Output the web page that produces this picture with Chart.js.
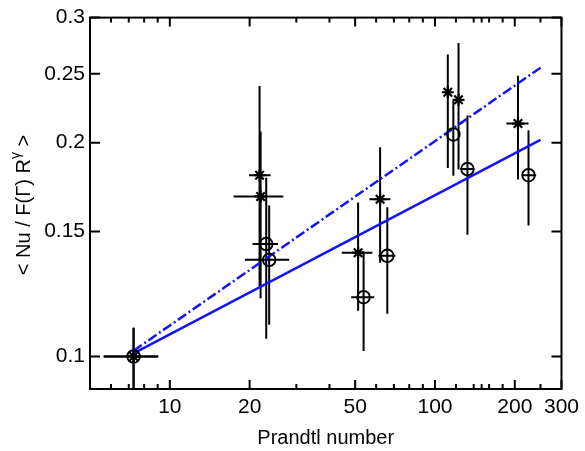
<!DOCTYPE html>
<html>
<head>
<meta charset="utf-8">
<script src="https://cdn.jsdelivr.net/npm/chart.js@4/dist/chart.umd.min.js"></script>
<style>
  html, body { margin: 0; padding: 0; background: #ffffff; }
  #c { display: block; }
</style>
</head>
<body>
<canvas id="c" width="585" height="451"></canvas>
<script>
// ---- Data ----
// Asterisk series
const starPr   = [7.3, 21.8, 22.0, 51.3, 62.1, 111.8, 122.7, 205.6];
const starNu   = [0.100, 0.180, 0.168, 0.140, 0.1665, 0.2355, 0.2298, 0.2128];
const starNuLo = [0.085, 0.1255, 0.1208, 0.116, 0.1355, 0.1842, 0.1834, 0.1775];
const starNuHi = [0.1098, 0.2403, 0.2074, 0.1647, 0.197, 0.2662, 0.2763, 0.2484];
const starPrLo = [5.63, 19.9, 17.4, 44.5, 56.6, null, null, 185.9];
const starPrHi = [9.04, 24.0, 26.8, 58.1, 67.9, null, null, 225.3];

// Circle series
const circPr   = [7.3, 23.1, 23.7, 53.8, 66.1, 117.3, 132.6, 225.3];
const circNu   = [0.100, 0.144, 0.1368, 0.1212, 0.1386, 0.2054, 0.1836, 0.180];
const circNuLo = [0.085, 0.1059, 0.1108, 0.1018, 0.1149, 0.1796, 0.1484, 0.1529];
const circNuHi = [0.1098, 0.1785, 0.1632, 0.1404, 0.1622, 0.229, 0.2185, 0.2083];
const circPrLo = [5.63, 20.5, 19.2, 48.3, 61.2, null, 125.0, 214.8];
const circPrHi = [9.04, 25.6, 28.2, 59.0, 70.9, null, 139.9, 240.8];

// Fit lines
const fitPr       = [7.3, 250];
const fitSolid    = [0.101, 0.2018];
const fitDashDot  = [0.1019, 0.255];

// Ticks
const xTickValues = [10, 20, 50, 100, 200, 300];
const xTickText   = ['10', '20', '50', '100', '200', '300'];
const xMinorTicks = [6, 7, 8, 9, 30, 40, 60, 70, 80, 90, 120, 140, 150, 160, 180, 250];
const yTickValues = [0.1, 0.15, 0.2, 0.25, 0.3];
const yTickText   = ['0.1', '0.15', '0.2', '0.25', '0.3'];

const FONT = '"Liberation Sans", Arial, Helvetica, sans-serif';
const BLUE = '#1414ee';

const pts = (xs, ys) => xs.map((v, i) => ({ x: v, y: ys[i] }));

const errorBarsPlugin = {
  id: 'errorBars',
  beforeDatasetsDraw(chart) {
    const { ctx, chartArea: a, scales: { x, y } } = chart;
    ctx.save();
    ctx.beginPath();
    ctx.rect(a.left, a.top, a.right - a.left, a.bottom - a.top);
    ctx.clip();
    ctx.strokeStyle = '#000';
    ctx.lineWidth = 2;
    const drawSet = (pr, nu, lo, hi, plo, phi) => {
      for (let i = 0; i < pr.length; i++) {
        const px = x.getPixelForValue(pr[i]);
        const py = y.getPixelForValue(nu[i]);
        ctx.beginPath();
        ctx.moveTo(px, y.getPixelForValue(lo[i]));
        ctx.lineTo(px, y.getPixelForValue(hi[i]));
        if (plo[i] != null) {
          ctx.moveTo(x.getPixelForValue(plo[i]), py);
          ctx.lineTo(x.getPixelForValue(phi[i]), py);
        }
        ctx.stroke();
      }
    };
    drawSet(starPr, starNu, starNuLo, starNuHi, starPrLo, starPrHi);
    drawSet(circPr, circNu, circNuLo, circNuHi, circPrLo, circPrHi);
    ctx.restore();
  }
};

const framePlugin = {
  id: 'frame',
  afterDraw(chart) {
    const { ctx, chartArea: a, scales: { x, y } } = chart;
    ctx.save();
    ctx.strokeStyle = '#000';
    ctx.lineWidth = 2;
    ctx.strokeRect(a.left, a.top, a.right - a.left, a.bottom - a.top);
    ctx.beginPath();
    const tickX = (v, len) => {
      const px = x.getPixelForValue(v);
      ctx.moveTo(px, a.bottom); ctx.lineTo(px, a.bottom - len);
      ctx.moveTo(px, a.top); ctx.lineTo(px, a.top + len);
    };
    xTickValues.forEach(v => tickX(v, 9));
    xMinorTicks.forEach(v => tickX(v, 5));
    yTickValues.forEach(v => {
      const py = y.getPixelForValue(v);
      ctx.moveTo(a.left, py); ctx.lineTo(a.left + 10, py);
      ctx.moveTo(a.right, py); ctx.lineTo(a.right - 10, py);
    });
    ctx.stroke();

    // Y axis title with superscript gamma
    const main1 = '< Nu / F(\u0393) R';
    const sup = '\u03B3';
    const main2 = ' >';
    ctx.fillStyle = '#000';
    ctx.font = '20px ' + FONT;
    const w1 = ctx.measureText(main1).width;
    const w3 = ctx.measureText(main2).width;
    ctx.font = '14px ' + FONT;
    const w2 = ctx.measureText(sup).width;
    const total = w1 + w2 + w3;
    ctx.translate(24, 205);
    ctx.rotate(-Math.PI / 2);
    ctx.textBaseline = 'middle';
    ctx.textAlign = 'left';
    let sx = -total / 2;
    ctx.font = '20px ' + FONT;
    ctx.fillText(main1, sx, 0);
    sx += w1;
    ctx.font = '14px ' + FONT;
    ctx.fillText(sup, sx, -8);
    sx += w2;
    ctx.font = '20px ' + FONT;
    ctx.fillText(main2, sx, 0);
    ctx.restore();
  }
};

new Chart(document.getElementById('c'), {
  data: {
    datasets: [
      {
        type: 'scatter',
        data: pts(starPr, starNu),
        pointStyle: 'star',
        pointRadius: 6,
        borderColor: '#000',
        backgroundColor: 'rgba(0,0,0,0)',
        borderWidth: 2.2
      },
      {
        type: 'scatter',
        data: pts(circPr, circNu),
        pointStyle: 'circle',
        pointRadius: 6.3,
        borderColor: '#000',
        backgroundColor: 'rgba(0,0,0,0)',
        borderWidth: 1.9
      },
      {
        type: 'line',
        data: pts(fitPr, fitSolid),
        borderColor: BLUE,
        borderWidth: 2.5,
        pointRadius: 0,
        fill: false
      },
      {
        type: 'line',
        data: pts(fitPr, fitDashDot),
        borderColor: BLUE,
        borderWidth: 2.5,
        borderDash: [10, 3, 2, 3],
        pointRadius: 0,
        fill: false
      }
    ]
  },
  options: {
    responsive: false,
    devicePixelRatio: 1,
    animation: false,
    layout: { padding: { top: 13, right: 18, left: 0, bottom: 0 } },
    plugins: { legend: { display: false }, tooltip: { enabled: false } },
    scales: {
      x: {
        type: 'logarithmic',
        position: 'bottom',
        min: 5,
        max: 300,
        afterBuildTicks: s => { s.ticks = xTickValues.map(v => ({ value: v })); },
        afterFit: s => { s.height = 62; },
        ticks: {
          autoSkip: false,
          maxRotation: 0,
          padding: 6,
          color: '#000',
          font: { family: FONT, size: 21 },
          callback: (v) => { const i = xTickValues.indexOf(v); return i >= 0 ? xTickText[i] : ''; }
        },
        grid: { display: false, drawTicks: false },
        border: { display: false },
        title: {
          display: true,
          text: 'Prandtl number',
          color: '#000',
          font: { family: FONT, size: 20 },
          padding: { top: 0, bottom: 1 }
        }
      },
      y: {
        type: 'logarithmic',
        position: 'left',
        min: 0.09,
        max: 0.3,
        afterBuildTicks: s => { s.ticks = yTickValues.map(v => ({ value: v })); },
        afterFit: s => { s.width = 90; },
        ticks: {
          autoSkip: false,
          padding: 5,
          color: '#000',
          font: { family: FONT, size: 21 },
          callback: (v) => { const i = yTickValues.indexOf(v); return i >= 0 ? yTickText[i] : ''; }
        },
        grid: { display: false, drawTicks: false },
        border: { display: false }
      }
    }
  },
  plugins: [errorBarsPlugin, framePlugin]
});
</script>
</body>
</html>
